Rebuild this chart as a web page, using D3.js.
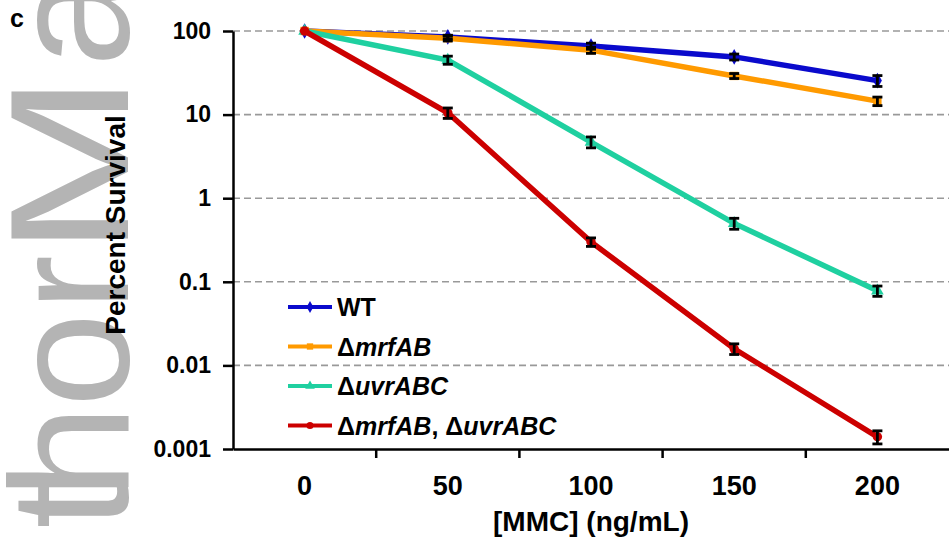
<!DOCTYPE html>
<html>
<head>
<meta charset="utf-8">
<script src="https://cdn.jsdelivr.net/npm/d3@7"></script>
<style>
  body { margin: 0; background: #fff; }
  svg { display: block; font-family: "Liberation Sans", Arial, sans-serif; }
</style>
</head>
<body>
<div id="chart"></div>
<script>
// ---- data
var doses = ['0', '50', '100', '150', '200'];
var seriesNames = ['WT', 'mrfAB', 'uvrABC', 'mrfAB, uvrABC'];
var wt        = [100, 85, 66, 49, 25.5];
var mrfAB     = [100, 82, 59, 29, 14.5];
var uvrABC    = [100, 45, 4.7, 0.5, 0.078];
var mrfUvr    = [100, 10.5, 0.30, 0.0158, 0.0014];
var wtErr     = [0, 4, 5.5, 4, 3.8];
var mrfABErr  = [0, 6, 5, 2, 1.7];
var uvrABCErr = [0, 5, 0.7, 0.075, 0.011];
var mrfUvrErr = [0, 1.5, 0.035, 0.0023, 0.00025];
var yTicks    = [100, 10, 1, 0.1, 0.01, 0.001];
var yTickLabels = ['100', '10', '1', '0.1', '0.01', '0.001'];

var colors = ['#0a0acc', '#ff9a00', '#1fd0a0', '#cc0000'];
var symbols = [d3.symbolDiamond, d3.symbolSquare, d3.symbolTriangle, d3.symbolCircle];

var series = [
  {name: seriesNames[0], values: wt, err: wtErr},
  {name: seriesNames[1], values: mrfAB, err: mrfABErr},
  {name: seriesNames[2], values: uvrABC, err: uvrABCErr},
  {name: seriesNames[3], values: mrfUvr, err: mrfUvrErr}
];

var W = 949, H = 546;
var svg = d3.select('#chart').append('svg').attr('width', W).attr('height', H);

//---- watermark letters (rotated, behind everything)
var wm = svg.append('g').attr('fill', '#b4b4b4')
  .style('font-family', '"Liberation Sans", Arial, sans-serif')
  .style('font-size', '169px');
[['t', 505, 1], ['h', 452, 1], ['o', 360, 1], ['r', 283, 1], ['M', 165, 1.3], ['a', 20, 1]].forEach(function (l) {
  wm.append('text')
    .attr('transform', 'translate(128,' + l[1] + ') rotate(-90) scale(' + l[2] + ',1)')
    .attr('text-anchor', 'middle')
    .text(l[0]);
});

var x = d3.scaleBand().domain(doses).range([233, 949]).paddingInner(0).paddingOuter(0);
var y = d3.scaleLog().domain([0.001, 100]).range([449, 31]);
function cx(i) { return x(doses[i]) + x.bandwidth() / 2; }

//---- grid lines
svg.append('g').selectAll('line.grid')
  .data(yTicks.slice(0, 5)).enter()
  .append('line')
  .attr('x1', 233).attr('x2', 949)
  .attr('y1', function (d) { return y(d); })
  .attr('y2', function (d) { return y(d); })
  .attr('stroke', '#999')
  .attr('stroke-width', 1.6)
  .attr('stroke-dasharray', '7,4');

//---- y axis
var yAxis = d3.axisLeft(y).tickValues(yTicks)
  .tickFormat(function (d, i) { return yTickLabels[i]; })
  .tickSizeInner(10).tickSizeOuter(0).tickPadding(12);
var gy = svg.append('g').attr('transform', 'translate(233,0)').call(yAxis);
gy.select('.domain').attr('stroke', '#000').attr('stroke-width', 2.5);
gy.selectAll('.tick line').attr('stroke', '#000').attr('stroke-width', 2.5);
gy.selectAll('.tick text')
  .attr('fill', '#000')
  .style('font-size', '23px')
  .style('font-weight', 'bold')
  .style('font-family', '"Liberation Sans", Arial, sans-serif');

//---- x axis (category style: ticks between categories)
var xAxis = d3.axisBottom(x).tickSize(0).tickPadding(27);
var gx = svg.append('g').attr('transform', 'translate(0,449)').call(xAxis);
gx.select('.domain').attr('stroke', '#000').attr('stroke-width', 2.5);
gx.selectAll('.tick text')
  .attr('fill', '#000')
  .style('font-size', '27px')
  .style('font-weight', 'bold')
  .style('font-family', '"Liberation Sans", Arial, sans-serif');
gx.selectAll('line.sep')
  .data(doses.slice(1)).enter()
  .append('line')
  .attr('x1', function (d) { return x(d); })
  .attr('x2', function (d) { return x(d); })
  .attr('y1', 0).attr('y2', 9)
  .attr('stroke', '#000').attr('stroke-width', 2.5);

//---- axis titles
svg.append('text')
  .attr('x', 591).attr('y', 531)
  .attr('text-anchor', 'middle')
  .style('font-size', '28px').style('font-weight', 'bold')
  .text('[MMC] (ng/mL)');

svg.append('text')
  .attr('transform', 'translate(125,225) rotate(-90)')
  .attr('text-anchor', 'middle')
  .style('font-size', '28px').style('font-weight', 'bold')
  .text('Percent Survival');

svg.append('text')
  .attr('x', 10).attr('y', 27)
  .style('font-size', '25px').style('font-weight', 'bold')
  .text('c');

//---- lines
var line = d3.line()
  .x(function (d, i) { return cx(i); })
  .y(function (d) { return y(d); });

series.forEach(function (s, k) {
  var g = svg.append('g');
  g.append('path')
    .attr('d', line(s.values))
    .attr('fill', 'none')
    .attr('stroke', colors[k])
    .attr('stroke-width', 5.5);

  g.selectAll('path.mark')
    .data(s.values).enter()
    .append('path')
    .attr('transform', function (d, i) { return 'translate(' + cx(i) + ',' + y(d) + ')'; })
    .attr('d', d3.symbol().type(symbols[k]).size(70))
    .attr('fill', colors[k]);
});

//---- error bars on top
series.forEach(function (s) {
  var eb = svg.append('g').attr('stroke', '#000').attr('stroke-width', 2.8);
  s.values.forEach(function (v, i) {
    if (!s.err[i]) return;
    var yt = y(v + s.err[i]), yb = y(Math.max(v - s.err[i], 1e-6));
    var xc = cx(i);
    eb.append('line').attr('x1', xc).attr('x2', xc).attr('y1', yt).attr('y2', yb);
    eb.append('line').attr('x1', xc - 5).attr('x2', xc + 5).attr('y1', yt).attr('y2', yt);
    eb.append('line').attr('x1', xc - 5).attr('x2', xc + 5).attr('y1', yb).attr('y2', yb);
  });
});

//---- legend
var legend = svg.append('g').attr('transform', 'translate(288,307)');
series.forEach(function (s, k) {
  var row = legend.append('g').attr('transform', 'translate(0,' + (k * 39.5) + ')');
  row.append('line').attr('x1', 0).attr('x2', 44).attr('y1', 0).attr('y2', 0)
    .attr('stroke', colors[k]).attr('stroke-width', 4);
  row.append('path')
    .attr('transform', 'translate(22,0)')
    .attr('d', d3.symbol().type(symbols[k]).size(40))
    .attr('fill', colors[k]);
  var t = row.append('text').attr('x', 49).attr('y', 9)
    .style('font-size', '25px').style('font-weight', 'bold');
  if (k === 0) {
    t.text(s.name);
  } else {
    s.name.split(', ').forEach(function (part, j) {
      if (j > 0) t.append('tspan').text(', ');
      t.append('tspan').text('\u0394');
      t.append('tspan').style('font-style', 'italic').text(part);
    });
  }
});
</script>
</body>
</html>
